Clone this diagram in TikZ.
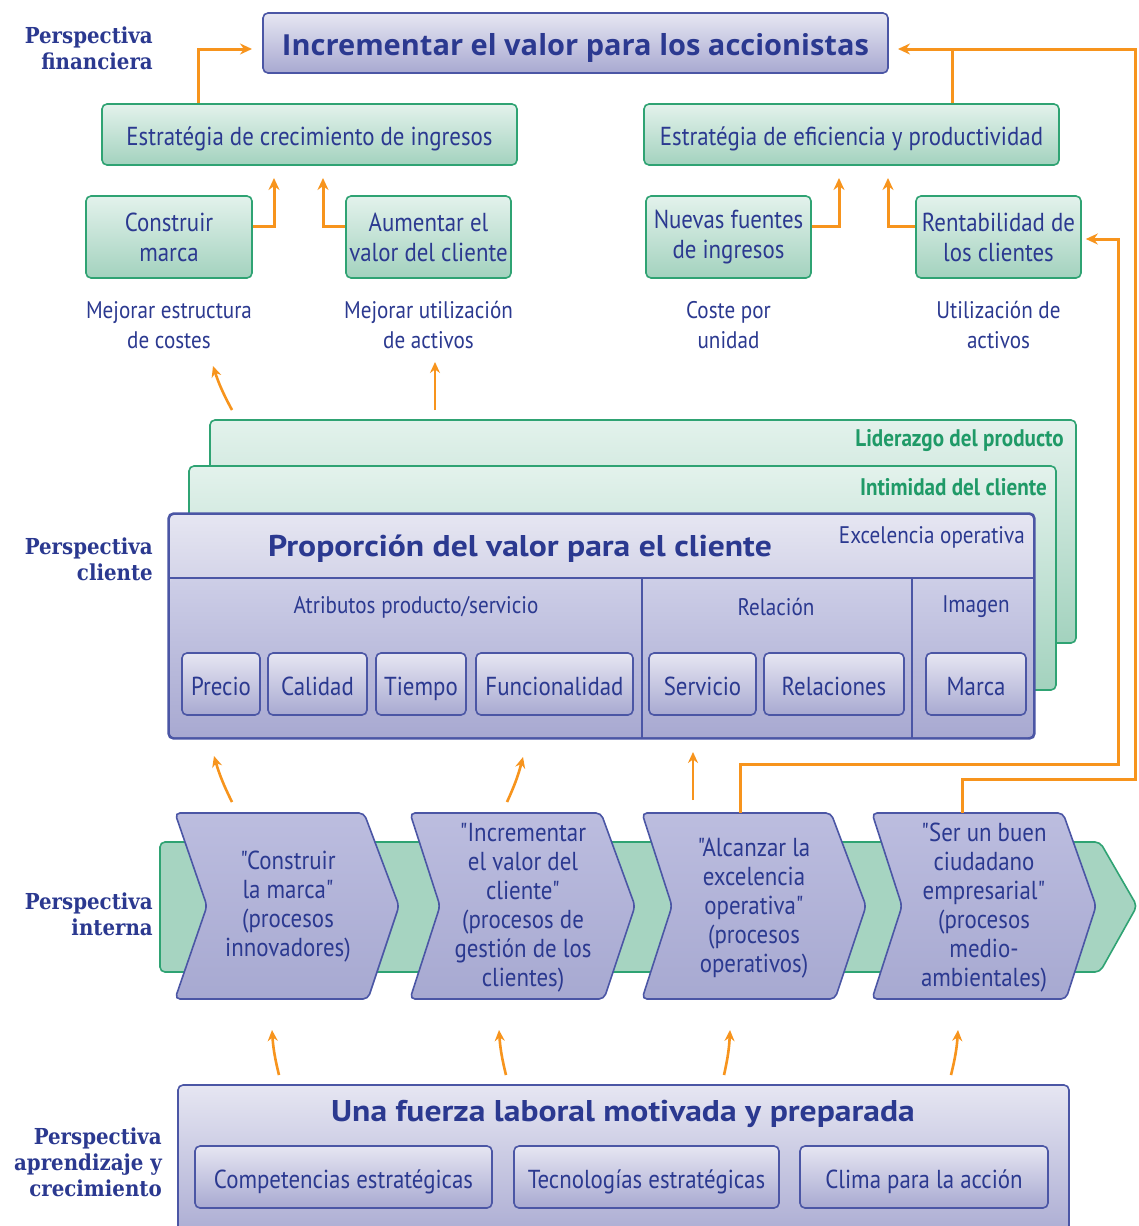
\documentclass[tikz,border=0pt]{standalone}
\usepackage{fontspec}
\setmainfont{PT Sans}[FakeStretch=0.88]
\newfontfamily\cfont{PT Sans}[FakeStretch=0.88, Ligatures=TeXOff]
\newfontfamily\tfont{PT Sans}[FakeStretch=1.12]
\newfontfamily\hfont{Open Sans}
\newfontfamily\pfont{DejaVu Serif}[FakeStretch=0.9]
\usetikzlibrary{arrows.meta,calc}
\definecolor{navy}{HTML}{2B3990}
\definecolor{pbd}{HTML}{4B56A5}
\definecolor{ptop}{HTML}{E6E6F2}
\definecolor{pmid}{HTML}{CDCEE7}
\definecolor{pbot}{HTML}{A8A9D1}
\definecolor{gbd}{HTML}{2FA373}
\definecolor{gtop}{HTML}{E3F2EC}
\definecolor{gbot}{HTML}{A3D2BE}
\definecolor{band}{HTML}{A6D4C1}
\definecolor{oran}{HTML}{F7941D}
\definecolor{gtext}{HTML}{1F9A67}
\definecolor{chtop}{HTML}{BCBDDF}
\definecolor{chbot}{HTML}{A7A9D1}
\begin{document}
\begin{tikzpicture}[x=1pt,y=-1pt,
  pbox/.style={draw=pbd, line width=1.6pt, rounded corners=5pt, top color=ptop, bottom color=pbot, inner sep=0pt, text=navy},
  gbox/.style={draw=gbd, line width=1.6pt, rounded corners=5pt, top color=gtop, bottom color=gbot, inner sep=0pt, text=navy},
  bfont/.style={font=\fontsize{26}{30}\selectfont},
  one/.style={text height=22pt, text depth=0pt},
  stxt/.style={text=navy, font=\fontsize{24}{30}\selectfont, align=center, inner sep=0pt},
  ctxt/.style={text=navy, font=\cfont\fontsize{26}{29}\selectfont, align=center, inner sep=0pt},
  ttxt/.style={text=navy, font=\tfont\bfseries\fontsize{30}{34}\selectfont, inner sep=0pt},
  persp/.style={text=navy, font=\pfont\bfseries\fontsize{22}{26}\selectfont, align=right, anchor=east, inner sep=0pt},
  chev/.style={draw=pbd, line width=1.6pt, rounded corners=5pt, top color=chtop, bottom color=chbot},
  oline/.style={draw=oran, line width=3pt},
  oarr/.style={draw=oran, line width=3pt, -{Stealth[length=12pt,width=11pt]}},
  warr/.style={draw=oran, line width=2.6pt, -{Stealth[length=11pt,width=10pt]}}
]
\useasboundingbox (0,0) rectangle (1139,1226);
\fill[white] (0,0) rectangle (1139,1226);
\clip (0,0) rectangle (1139,1226);

% ---------------- Financial perspective
\node[persp] (lf) at (153,48) {Perspectiva\\financiera};
\node[pbox, minimum width=625, minimum height=60, text height=25pt, text depth=0pt] (top) at (575.5,43)
  {\hfont\bfseries\fontsize{29}{32}\selectfont Incrementar el valor para los accionistas};
\node[gbox, bfont, one, minimum width=415, minimum height=61] (g1) at (309.5,134.5)
  {Estratégia de crecimiento de ingresos};
\node[gbox, bfont, one, minimum width=415, minimum height=61] (g2) at (851.5,134.5)
  {Estratégia de eficiencia y productividad};
\node[gbox, bfont, minimum width=166, minimum height=82, align=center] (cm) at (169,237) {Construir\\marca};
\node[gbox, bfont, minimum width=165, minimum height=82, align=center] (av) at (428.5,237) {Aumentar el\\valor del cliente};
\node[gbox, bfont, minimum width=165, minimum height=82, align=center] (nf) at (728.5,237) {Nuevas fuentes\\de ingresos};
\node[gbox, bfont, minimum width=165, minimum height=82, align=center] (rb) at (998.5,237) {Rentabilidad de\\los clientes};
\node[stxt] (m1) at (169,325) {Mejorar estructura\\de costes};
\node[stxt] (m2) at (428.5,325) {Mejorar utilización\\de activos};
\node[stxt] (m3) at (728.5,325) {Coste por\\unidad};
\node[stxt] (m4) at (998.5,325) {Utilización de\\activos};

% ---------------- Customer perspective
\node[persp] (lc) at (153,559) {Perspectiva\\cliente};
\node[gbox, minimum width=866, minimum height=223] (lp) at (643,531.5) {};
\node[text=gtext, font=\bfseries\fontsize{24}{28}\selectfont, anchor=east, inner sep=0pt] (lpt) at (1064,441) {Liderazgo del producto};
\node[gbox, minimum width=867, minimum height=224] (ic) at (622.5,578) {};
\node[text=gtext, font=\bfseries\fontsize{24}{28}\selectfont, anchor=east, inner sep=0pt] (ict) at (1047,487) {Intimidad del cliente};
\node[pbox, minimum width=865, minimum height=224] (vp) at (601.5,626) {};
\shade[top color=pmid, bottom color=pbot, rounded corners=4pt] (170,579) rectangle (1032,737);
\draw[pbd, line width=1.6pt, rounded corners=5pt] (vp.north west) rectangle (vp.south east);
\draw[pbd, line width=1.6pt] (169,578) -- (1033,578);
\draw[pbd, line width=1.4pt] (642,578) -- (642,738);
\draw[pbd, line width=1.4pt] (912,578) -- (912,738);
\node[ttxt] (vpt) at (520,549) {Proporción del valor para el cliente};
\node[text=navy, font=\fontsize{24}{28}\selectfont, anchor=east, inner sep=0pt] (eo) at (1025,537) {Excelencia operativa};
\node[stxt] (s1) at (416,607) {Atributos producto/servicio};
\node[stxt] (s2) at (776,607) {Relación};
\node[stxt] (s3) at (976,607) {Imagen};
\node[pbox, bfont, one, minimum width=78, minimum height=62] (b1) at (221,684) {Precio};
\node[pbox, bfont, one, minimum width=99, minimum height=62] (b2) at (317.5,684) {Calidad};
\node[pbox, bfont, one, minimum width=90, minimum height=62] (b3) at (421,684) {Tiempo};
\node[pbox, bfont, one, minimum width=157, minimum height=62] (b4) at (554.5,684) {Funcionalidad};
\node[pbox, bfont, one, minimum width=107, minimum height=62] (b5) at (702.5,684) {Servicio};
\node[pbox, bfont, one, minimum width=140, minimum height=62] (b6) at (834,684) {Relaciones};
\node[pbox, bfont, one, minimum width=100, minimum height=62] (b7) at (976,684) {Marca};

% ---------------- Internal perspective
\node[persp] (li) at (153,914) {Perspectiva\\interna};
\filldraw[fill=band, draw=gbd, line width=1.6pt, rounded corners=5pt] (160,842) -- (1100,842) -- (1137,906) -- (1100,972) -- (160,972) -- cycle;
\filldraw[chev] (175,813) -- (364,813) -- (399,906) -- (368,999) -- (175,999) -- (207,906) -- cycle;
\filldraw[chev] (410,813) -- (601,813) -- (635,906) -- (604,999) -- (410,999) -- (440,906) -- cycle;
\filldraw[chev] (642,813) -- (831,813) -- (866,906) -- (835,999) -- (642,999) -- (672,906) -- cycle;
\filldraw[chev] (872,813) -- (1063,813) -- (1096,906) -- (1066,999) -- (872,999) -- (902,906) -- cycle;
\node[ctxt] (c1) at (288,907) {"Construir\\la marca"\\(procesos\\innovadores)};
\node[ctxt] (c2) at (523,907.5) {"Incrementar\\el valor del\\cliente"\\(procesos de\\gestión de los\\clientes)};
\node[ctxt] (c3) at (754,908) {"Alcanzar la\\excelencia\\operativa"\\(procesos\\operativos)};
\node[ctxt] (c4) at (984,907.5) {"Ser un buen\\ciudadano\\empresarial"\\(procesos\\medio-\\ambientales)};
\coordinate (c3top) at (740,813);
\coordinate (c4top) at (962,813);

% ---------------- Learning perspective
\node[persp] (ll) at (162,1162) {Perspectiva\\aprendizaje y\\crecimiento};
\node[pbox, minimum width=891, minimum height=160] (wf) at (623.5,1165) {};
\node[ttxt] (wft) at (623,1114) {Una fuerza laboral motivada y preparada};
\node[pbox, bfont, one, minimum width=297, minimum height=62] (k1) at (343.5,1177) {Competencias estratégicas};
\node[pbox, bfont, one, minimum width=265, minimum height=62] (k2) at (646.5,1177) {Tecnologías estratégicas};
\node[pbox, bfont, one, minimum width=248, minimum height=62] (k3) at (924,1177) {Clima para la acción};

% ---------------- Connectors
\coordinate (tipL) at (252,49);
\coordinate (tipR) at (898,49);
\draw[oarr] ($(g1.north)+(-111.5,0)$) |- (tipL);
\draw[oline] ($(g2.north)+(100.5,0)$) -- ++(0,-55);
\draw[oarr] (c4top) -- (962,779) -- (1135,779) -- (1135,49) -- (tipR);
\draw[oarr] (c3top) -- (740,764) -- (1118,764) -- (1118,239) -- ($(rb.east)+(4,2)$);

\coordinate (ta) at (274,178);
\coordinate (tb) at (323,178);
\coordinate (tc) at (839,178);
\coordinate (td) at (888,178);
\draw[oarr] ($(cm.east)+(0,-11)$) -| (ta);
\draw[oarr] ($(av.west)+(0,-11)$) -| (tb);
\draw[oarr] ($(nf.east)+(0,-11)$) -| (tc);
\draw[oarr] ($(rb.west)+(0,-11)$) -| (td);

% short arrows
\coordinate (a1s) at (232,410); \coordinate (a1e) at (213,366);
\coordinate (a2s) at (435,410); \coordinate (a2e) at (435,362);
\coordinate (a3s) at (232,802); \coordinate (a3e) at (214,756);
\coordinate (a4s) at (507,802); \coordinate (a4e) at (523,757);
\coordinate (a5s) at (693,800); \coordinate (a5e) at (693,752);
\coordinate (a6s) at (279,1075); \coordinate (a6e) at (272,1030);
\coordinate (a7s) at (506,1075); \coordinate (a7e) at (499,1030);
\coordinate (a8s) at (724,1075); \coordinate (a8e) at (730,1030);
\coordinate (a9s) at (951,1075); \coordinate (a9e) at (958,1030);
\draw[warr] (a1s) to[bend left=5] (a1e);
\draw[warr] (a2s) -- (a2e);
\draw[warr] (a3s) to[bend left=5] (a3e);
\draw[warr] (a4s) to[bend right=5] (a4e);
\draw[warr] (a5s) -- (a5e);
\draw[warr] (a6s) to[bend left=5] (a6e);
\draw[warr] (a7s) to[bend left=5] (a7e);
\draw[warr] (a8s) to[bend right=5] (a8e);
\draw[warr] (a9s) to[bend right=5] (a9e);
\end{tikzpicture}
\end{document}
